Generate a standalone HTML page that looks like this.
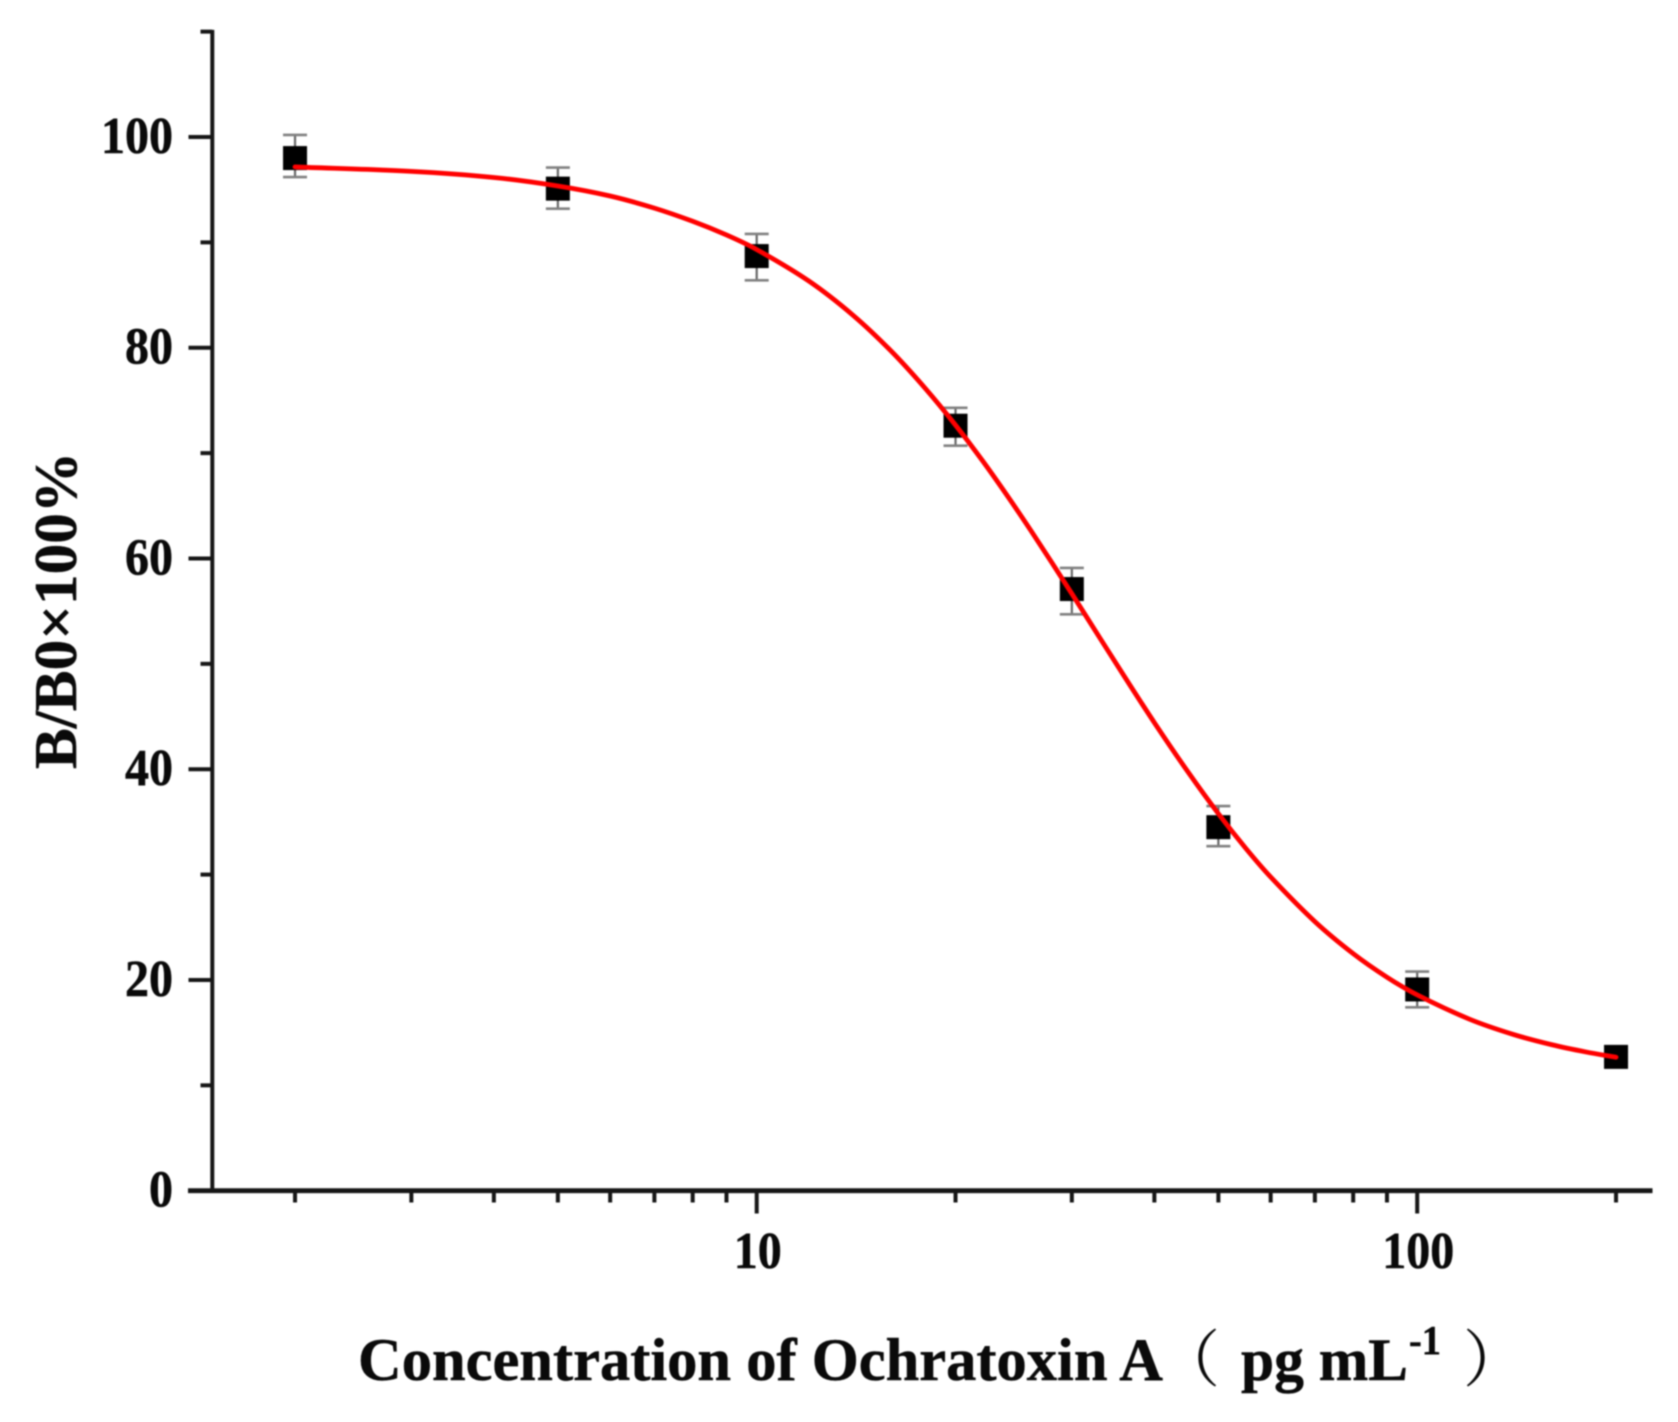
<!DOCTYPE html>
<html lang="en">
<head>
<meta charset="utf-8">
<title>B/B0 vs Ochratoxin A concentration</title>
<style>
html,body{margin:0;padding:0;background:#fff;width:1678px;height:1422px;overflow:hidden}
svg{display:block;filter:blur(.7px)}
text{font-family:"Liberation Serif","Noto Serif CJK SC",serif;font-weight:bold;fill:#0a0a0a;stroke:#0a0a0a;stroke-width:.5}
</style>
</head>
<body>
<svg id="chart" xmlns="http://www.w3.org/2000/svg" width="1678" height="1422" viewBox="0 0 1678 1422">
  <rect width="1678" height="1422" fill="#fff"/>
  <g id="axes"></g>
  <g id="errors"></g>
  <g id="points"></g>
  <path id="curve" fill="none" stroke="#ff0000" stroke-width="4.8" stroke-linecap="round"/>
  <text id="ytitle" transform="translate(76,769) rotate(-90)" font-size="60" textLength="317" lengthAdjust="spacingAndGlyphs"></text>
  <text x="358" y="1380" font-size="60" textLength="805" lengthAdjust="spacingAndGlyphs">Concentration of Ochratoxin A</text>
  <text x="1158" y="1381" font-size="62" style="font-weight:normal;stroke-width:0">（</text>
  <text x="1241" y="1380" font-size="60" textLength="167" lengthAdjust="spacingAndGlyphs">pg mL</text>
  <text x="1409" y="1354" font-size="41" textLength="32" lengthAdjust="spacingAndGlyphs">-1</text>
  <text x="1463" y="1381" font-size="62" style="font-weight:normal;stroke-width:0">）</text>
</svg>
<script>
// Data
var concentrations = [2, 5, 10, 20, 30, 50, 100, 200];
var meanValues = [98.0, 95.1, 88.7, 72.6, 57.1, 34.5, 19.1, 12.7];
var errorUpper = [100.2, 97.1, 90.8, 74.3, 59.1, 36.5, 20.8, 13.2];
var errorLower = [96.2, 93.2, 86.4, 70.7, 54.7, 32.7, 17.4, 12.2];

var curveConcentrations = [2, 3, 4, 5, 6, 7, 8, 9, 10, 12, 14, 16, 18, 20, 22, 24, 26, 28, 30, 33, 36, 40, 45, 50, 55, 60, 70, 80, 90, 100, 120, 140, 160, 180, 200];
var curveValues = [97.16, 96.74, 96.16, 95.35, 94.4, 93.25, 92.0, 90.7, 89.32, 86.32, 83.07, 79.65, 76.14, 72.66, 69.23, 65.88, 62.66, 59.58, 56.66, 52.56, 48.84, 44.42, 39.72, 35.78, 32.5, 29.77, 25.54, 22.5, 20.26, 18.58, 16.28, 14.82, 13.85, 13.17, 12.67];

var yMajorTicks = [0, 20, 40, 60, 80, 100];
var yMinorTicks = [10, 30, 50, 70, 90, 110];
var xMajorTicks = [10, 100];
var xMinorTicks = [2, 3, 4, 5, 6, 7, 8, 9, 20, 30, 40, 50, 60, 70, 80, 90, 200];
var yTitleText = 'B/B0×100%';

// Axis functions
function xScale(v) { return 756.7 + (Math.log10(v) - 1) * 660.5; }
function yScale(v) { return 1190.7 - v * 10.537; }

var NS = 'http://www.w3.org/2000/svg';
function make(tag, parent, attrs) {
  var el = document.createElementNS(NS, tag);
  for (var k in attrs) el.setAttribute(k, attrs[k]);
  parent.appendChild(el);
  return el;
}
var axes = document.getElementById('axes');
var errors = document.getElementById('errors');
var points = document.getElementById('points');
var AX_COLOR = '#161616';

var yAxis = make('line', axes, {x1: 212.3, x2: 212.3, y1: yScale(110) - 1.8, y2: yScale(0) + 2, stroke: AX_COLOR, 'stroke-width': 4});


var xAxis = make('line', axes, {x1: 188, x2: 1652.5, y1: yScale(0), y2: yScale(0), stroke: AX_COLOR, 'stroke-width': 4.8});



yMajorTicks.forEach(function (v) {
  var t = make('line', axes, {x1: 188.5, x2: 212, y1: yScale(v), y2: yScale(v), stroke: AX_COLOR, 'stroke-width': 4});
  
  
  var y = yScale(v) + 16;
  var l = make('text', axes, {x: 0, y: 0, 'font-size': 48, 'text-anchor': 'end', transform: 'translate(173,' + y + ') scale(1,1.07)'});
  l.textContent = String(v);
  
  
});
yMinorTicks.forEach(function (v) {
  var t = make('line', axes, {x1: 200.5, x2: 212, y1: yScale(v), y2: yScale(v), stroke: AX_COLOR, 'stroke-width': 4});
  
  
});
xMajorTicks.forEach(function (v) {
  var t = make('line', axes, {x1: xScale(v), x2: xScale(v), y1: yScale(0), y2: 1213.5, stroke: AX_COLOR, 'stroke-width': 4});
  
  
  var l = make('text', axes, {x: 0, y: 0, 'font-size': 48, 'text-anchor': 'middle', transform: 'translate(' + (xScale(v) + 1) + ',1268) scale(1,1.07)'});
  l.textContent = String(v);
  
  
});
xMinorTicks.forEach(function (v) {
  var t = make('line', axes, {x1: xScale(v), x2: xScale(v), y1: yScale(0), y2: 1202.5, stroke: AX_COLOR, 'stroke-width': 4});
  
  
});

concentrations.forEach(function (c, i) {
  var x = xScale(c);
  var stem = make('line', errors, {x1: x, x2: x, y1: yScale(errorUpper[i]), y2: yScale(errorLower[i]), stroke: '#666', 'stroke-width': 2.2});
  
  
  var capTop = make('line', errors, {x1: x - 12, x2: x + 12, y1: yScale(errorUpper[i]), y2: yScale(errorUpper[i]), stroke: '#808080', 'stroke-width': 2.6});
  
  
  var capBottom = make('line', errors, {x1: x - 12, x2: x + 12, y1: yScale(errorLower[i]), y2: yScale(errorLower[i]), stroke: '#808080', 'stroke-width': 2.6});
  
  
  var m = make('rect', points, {x: x - 12, y: yScale(meanValues[i]) - 12, width: 24, height: 24, fill: '#000'});
  
  
});

// Smooth curve through the read samples (Catmull-Rom to cubic Bezier)
var pts = curveConcentrations.map(function (c, i) { return [xScale(c), yScale(curveValues[i])]; });
var d = 'M' + pts[0][0].toFixed(2) + ' ' + pts[0][1].toFixed(2);
for (var i = 0; i < pts.length - 1; i++) {
  var p0 = pts[Math.max(i - 1, 0)], p1 = pts[i], p2 = pts[i + 1], p3 = pts[Math.min(i + 2, pts.length - 1)];
  var h = p2[0] - p1[0];
  var m1 = (p2[1] - p0[1]) / Math.max(p2[0] - p0[0], 1e-6);
  var m2 = (p3[1] - p1[1]) / Math.max(p3[0] - p1[0], 1e-6);
  d += ' C' + (p1[0] + h / 3).toFixed(2) + ' ' + (p1[1] + m1 * h / 3).toFixed(2) +
       ' ' + (p2[0] - h / 3).toFixed(2) + ' ' + (p2[1] - m2 * h / 3).toFixed(2) +
       ' ' + p2[0].toFixed(2) + ' ' + p2[1].toFixed(2);
}
document.getElementById('curve').setAttribute('d', d);

document.getElementById('ytitle').textContent = yTitleText;
</script>
</body>
</html>
